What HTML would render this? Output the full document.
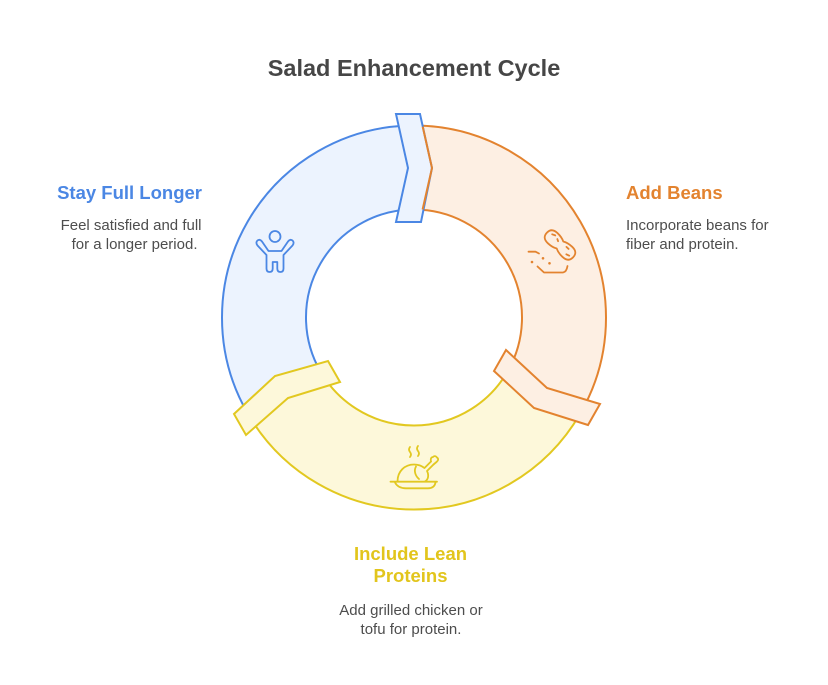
<!DOCTYPE html>
<html>
<head>
<meta charset="utf-8">
<style>
  html, body { margin: 0; padding: 0; background: #ffffff; }
  body { width: 828px; height: 685px; overflow: hidden; }
  svg { display: block; }
  text { font-family: "Liberation Sans", Arial, sans-serif; }
</style>
</head>
<body>
<svg width="828" height="685" viewBox="0 0 828 685" xmlns="http://www.w3.org/2000/svg">
  <rect width="828" height="685" fill="#ffffff"/>

  <!-- Title -->
  <text x="414" y="76" text-anchor="middle" font-size="23.5" font-weight="bold" fill="#464646">Salad Enhancement Cycle</text>

  <!-- Ring segments -->
  <!-- Blue: 150deg -> 270deg -->
  <path d="M247.72 413.5 A192 192 0 0 1 414 125.5 L414 209.5 A108 108 0 0 0 320.47 371.5 Z"
        fill="#ecf3fe" stroke="#4b87e4" stroke-width="2" stroke-linejoin="round"/>
  <!-- Orange: 270deg -> 30deg -->
  <path d="M414 125.5 A192 192 0 0 1 580.28 413.5 L507.53 371.5 A108 108 0 0 0 414 209.5 Z"
        fill="#fdefe3" stroke="#e3832f" stroke-width="2" stroke-linejoin="round"/>
  <!-- Yellow: 30deg -> 150deg -->
  <path d="M580.28 413.5 A192 192 0 0 1 247.72 413.5 L320.47 371.5 A108 108 0 0 0 507.53 371.5 Z"
        fill="#fdf8da" stroke="#e2c820" stroke-width="2" stroke-linejoin="round"/>

  <!-- Arrows / chevrons -->
  <!-- Top (blue) -->
  <polygon points="396,114 420,114 432,168 421,222 396,222 408,168"
           fill="#ecf3fe" stroke="#4b87e4" stroke-width="2" stroke-linejoin="miter"/>
  <!-- Orange edge over top arrow front -->
  <polyline points="422.7,126.7 432,168 422.6,209.5" fill="none" stroke="#e3832f" stroke-width="2" stroke-linejoin="miter"/>

  <!-- Bottom right (orange) -->
  <polygon points="506,350 547,388 600,404 588,425 534,408 494,371"
           fill="#fdefe3" stroke="#e3832f" stroke-width="2" stroke-linejoin="miter"/>

  <!-- Bottom left (yellow) -->
  <polygon points="328,361 340,382 288,398 246,435 234,414 275,376"
           fill="#fdf8da" stroke="#e2c820" stroke-width="2" stroke-linejoin="miter"/>

  <!-- Person icon (blue) -->
  <g fill="none" stroke="#4b87e4" stroke-width="1.8" stroke-linecap="round" stroke-linejoin="round">
    <circle cx="275" cy="236.5" r="5.5"/>
    <path d="M262 241.5 L268.5 251 L281.5 251 L288 241.5 Q290.5 238.5 292.8 240.8 Q294.5 242.8 292.5 245.5 L283.5 255 L283.5 268.5 Q283.5 272 280.4 272 Q277.3 272 277.3 268.5 L277.3 262 L272.7 262 L272.7 268.5 Q272.7 272 269.6 272 Q266.5 272 266.5 268.5 L266.5 255 L257.5 245.5 Q255.5 242.8 257.2 240.8 Q259.5 238.5 262 241.5 Z"/>
  </g>

  <!-- Peanut / beans icon (orange) -->
  <g fill="none" stroke="#e3832f" stroke-width="1.8" stroke-linecap="round" stroke-linejoin="round">
    <g transform="translate(560 245) rotate(43)">
      <path d="M-10 -7 Q-18 -7 -18 0 Q-18 7 -10 7 Q-4 7 0 4.8 Q4 7 10 7 Q18 7 18 0 Q18 -7 10 -7 Q4 -7 0 -4.8 Q-4 -7 -10 -7 Z"/>
      <path d="M-13 -2.5 L-10 -3.8"/>
      <path d="M-6 -2.5 L-4 -1.5"/>
      <path d="M6 -3 L9 -3"/>
      <path d="M11 2.5 L14 1.5"/>
    </g>
    <path d="M528.5 251.7 H535.5 L539 253.5"/>
    <path d="M537.5 266.5 L544 272.5 H563 Q566.5 272 567.5 266"/>
  </g>
  <g fill="#e3832f">
    <circle cx="532" cy="262" r="1.3"/>
    <circle cx="543" cy="258.3" r="1.3"/>
    <circle cx="549.5" cy="263.3" r="1.3"/>
  </g>

  <!-- Chicken icon (yellow) -->
  <g fill="none" stroke="#e2c820" stroke-width="1.8" stroke-linecap="round" stroke-linejoin="round">
    <path d="M390.5 481.7 H437"/>
    <path d="M395 482.5 Q398 488.3 406 488.3 H428 Q434.5 488.3 435.5 482.5"/>
    <path d="M397.5 481.5 C397.5 471 405 464.5 414 464.5 C419 464.5 422 466 424.5 468 L431 461.5"/>
    <path d="M431 461.5 Q430 457.5 433 457 Q435 455 437 457.5 Q439.5 459.5 436.5 462 L433.5 464.5"/>
    <path d="M433.5 464.5 L427 471 C429 475 428.5 479.5 425 481.5"/>
    <path d="M416 466.5 C413.5 471 415.5 476 419 479"/>
    <path d="M410 447 q-2 2.5 0 5 q2 2.5 0 5"/>
    <path d="M418 446 q-2 2.5 0 5 q2 2.5 0 5"/>
  </g>

  <!-- Left: Stay Full Longer -->
  <text x="202" y="199" text-anchor="end" font-size="18.5" font-weight="bold" fill="#4b87e4">Stay Full Longer</text>
  <text x="201.5" y="230" text-anchor="end" font-size="15" fill="#4d4d4d">Feel satisfied and full</text>
  <text x="197.5" y="249" text-anchor="end" font-size="15" fill="#4d4d4d">for a longer period.</text>

  <!-- Right: Add Beans -->
  <text x="626" y="199" font-size="18.5" font-weight="bold" fill="#e3832f">Add Beans</text>
  <text x="626" y="230" font-size="15" fill="#4d4d4d">Incorporate beans for</text>
  <text x="626" y="249" font-size="15" fill="#4d4d4d">fiber and protein.</text>

  <!-- Bottom: Include Lean Proteins -->
  <text x="410.5" y="560" text-anchor="middle" font-size="18.5" font-weight="bold" fill="#e2c51c">Include Lean</text>
  <text x="410.5" y="582" text-anchor="middle" font-size="18.5" font-weight="bold" fill="#e2c51c">Proteins</text>
  <text x="411" y="615" text-anchor="middle" font-size="15" fill="#4d4d4d">Add grilled chicken or</text>
  <text x="411" y="634" text-anchor="middle" font-size="15" fill="#4d4d4d">tofu for protein.</text>
</svg>
</body>
</html>
